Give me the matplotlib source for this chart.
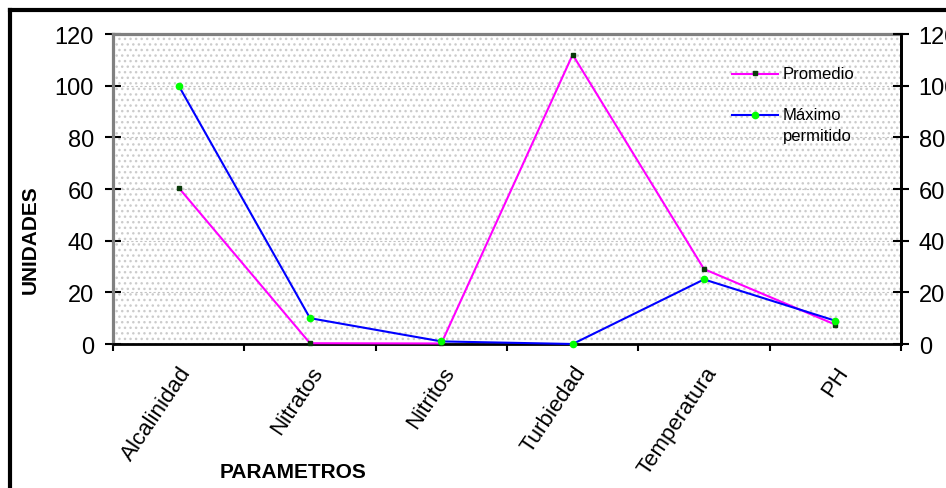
import matplotlib
matplotlib.use("Agg")
import matplotlib.pyplot as plt
from matplotlib.patches import Rectangle
from matplotlib.lines import Line2D

plt.rcParams['font.family'] = ['Liberation Sans', 'DejaVu Sans']
plt.rcParams['hatch.linewidth'] = 1.0

# datos
parametros = ['Alcalinidad', 'Nitratos', 'Nitritos', 'Turbiedad', 'Temperatura', 'PH']
promedio = [60.5, 0.3, 0.2, 112, 29, 7.5]
maximo = [100, 10, 1, 0, 25, 9]
y_ticks = [0, 20, 40, 60, 80, 100, 120]

fig = plt.figure(figsize=(9.46, 4.89), dpi=100)
ax = fig.add_axes([113/946, 1-345/489, 788/946, 310/489])

# fondo punteado
ax.set_facecolor('white')
ax.add_patch(Rectangle((0, 0), 1, 1, transform=ax.transAxes, facecolor='white',
                       edgecolor='#cccccc', hatch='...', linewidth=0, zorder=0))

x = list(range(len(parametros)))
ax.plot(x, promedio, color='#ff00ff', lw=1.5, marker='s', ms=3,
        mfc='#0a3a0a', mec='#0a3a0a', clip_on=False, zorder=3)
ax.plot(x, maximo, color='#0000ff', lw=1.5, marker='o', ms=4.5,
        mfc='#00ff00', mec='#00ff00', clip_on=False, zorder=4)

ax.set_xlim(-0.5, len(parametros) - 0.5)
ax.set_ylim(0, 120)
ax.set_yticks(y_ticks)
ax.set_yticklabels([str(v) for v in y_ticks], fontsize=17)
for v in y_ticks[1:-1]:
    ax.axhline(v, color='#c4c4c4', lw=0.8, dashes=(2, 2), zorder=1)

# ticks en los limites de categoria, etiquetas en el centro
ax.set_xticks([i - 0.5 for i in range(len(parametros) + 1)])
ax.set_xticklabels([])
ax.set_xticks(x, minor=True)
ax.set_xticklabels(parametros, minor=True, rotation=56, ha='right',
                   rotation_mode='anchor', fontsize=16)
ax.tick_params(axis='x', which='major', direction='out', length=5, width=1.5, color='black')
ax.tick_params(axis='x', which='minor', length=0, pad=13)
ax.tick_params(axis='y', direction='inout', length=11.5, width=1.5, pad=8)

for s in ['left', 'top']:
    ax.spines[s].set_color('#808080')
    ax.spines[s].set_linewidth(2.3)
for s in ['bottom', 'right']:
    ax.spines[s].set_color('black')
    ax.spines[s].set_linewidth(2.0)

ax2 = ax.twinx()
ax2.set_ylim(0, 120)
ax2.set_yticks(y_ticks)
ax2.set_yticklabels([str(v) for v in y_ticks], fontsize=17)
ax2.tick_params(axis='y', direction='inout', length=11.5, width=1.5, pad=7)
for s in ['left', 'top', 'bottom']:
    ax2.spines[s].set_visible(False)
ax2.spines['right'].set_color('black')
ax2.spines['right'].set_linewidth(2.0)

# leyenda
ax.plot([0.7855, 0.8439], [0.871, 0.871], transform=ax.transAxes, color='#ff00ff', lw=1.5, zorder=5)
ax.plot([0.8147], [0.874], transform=ax.transAxes, marker='s', ms=3, color='#0a3a0a', zorder=6)
ax.plot([0.7855, 0.8439], [0.739, 0.739], transform=ax.transAxes, color='#0000ff', lw=1.5, zorder=5)
ax.plot([0.8147], [0.739], transform=ax.transAxes, marker='o', ms=4.5, color='#00ff00', zorder=6)
ax.text(0.850, 0.871, 'Promedio', transform=ax.transAxes, fontsize=12, va='center', ha='left')
ax.text(0.850, 0.739, 'Máximo', transform=ax.transAxes, fontsize=12, va='center', ha='left')
ax.text(0.850, 0.674, 'permitido', transform=ax.transAxes, fontsize=12, va='center', ha='left')

fig.text(293/946, 1-473/489, 'PARAMETROS', fontsize=15, fontweight='bold', ha='center', va='center')
fig.text(30/946, 1-240/489, 'UNIDADES', fontsize=15, fontweight='bold', rotation=90,
         ha='center', va='center')

# marco exterior
fig.add_artist(Line2D([10/946, 10/946], [0, 1-11/489], color='black', lw=3, transform=fig.transFigure))
fig.add_artist(Line2D([10/946, 1], [1-11/489, 1-11/489], color='black', lw=3, transform=fig.transFigure))

fig.savefig('out.png', dpi=100)
